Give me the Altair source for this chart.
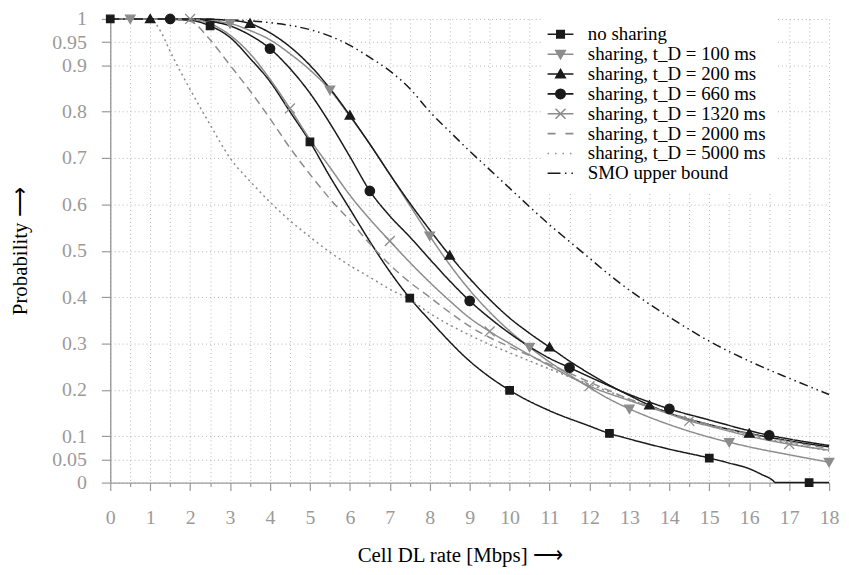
import altair as alt
import pandas as pd

# ---------------- data ----------------
SERIES = [
    "no sharing",
    "sharing, t_D = 100 ms",
    "sharing, t_D = 200 ms",
    "sharing, t_D = 660 ms",
    "sharing, t_D = 1320 ms",
    "sharing, t_D = 2000 ms",
    "sharing, t_D = 5000 ms",
    "SMO upper bound",
]

NO_X = [0, 1, 2, 2.5, 3, 3.5, 4, 4.5, 5, 5.5, 6, 6.5, 7, 7.5, 8, 9, 10, 11, 12, 12.5, 13, 14, 15, 15.5, 16, 16.3, 16.6, 16.65, 17.5, 18]
NO_Y = [1, 1, 0.997, 0.985, 0.96, 0.915, 0.865, 0.80, 0.735, 0.66, 0.59, 0.52, 0.455, 0.398, 0.35, 0.262, 0.199, 0.155, 0.122, 0.106, 0.094, 0.072, 0.053, 0.042, 0.03, 0.018, 0.004, 0, 0, 0]

T100_X = [0, 0.5, 1, 2, 3, 3.5, 4, 4.5, 5, 5.5, 6, 6.5, 7, 7.5, 8, 8.5, 9, 9.5, 10, 10.5, 11, 11.5, 12, 12.5, 13, 14, 15, 15.5, 16, 17, 18]
T100_Y = [1, 1, 1, 0.999, 0.99, 0.975, 0.955, 0.925, 0.89, 0.847, 0.79, 0.73, 0.665, 0.598, 0.532, 0.47, 0.415, 0.368, 0.327, 0.292, 0.26, 0.232, 0.205, 0.18, 0.159, 0.125, 0.098, 0.087, 0.077, 0.06, 0.044]

T200_X = [0, 1, 2, 3, 3.5, 4, 4.5, 5, 5.5, 6, 6.5, 7, 7.5, 8, 8.5, 9, 9.5, 10, 10.5, 11, 11.5, 12, 12.5, 13, 13.5, 14, 15, 16, 17, 18]
T200_Y = [1, 1, 1, 0.997, 0.99, 0.97, 0.94, 0.9, 0.85, 0.792, 0.73, 0.665, 0.603, 0.545, 0.49, 0.44, 0.395, 0.355, 0.322, 0.292, 0.262, 0.235, 0.21, 0.188, 0.167, 0.15, 0.125, 0.106, 0.09, 0.077]

T660_X = [0, 1.5, 2, 2.5, 3, 3.5, 4, 4.5, 5, 5.5, 6, 6.5, 7, 7.5, 8, 8.5, 9, 9.5, 10, 10.5, 11, 11.5, 12, 13, 14, 15, 16, 16.5, 17, 18]
T660_Y = [1, 1, 1, 0.995, 0.985, 0.965, 0.936, 0.893, 0.84, 0.775, 0.703, 0.629, 0.575, 0.53, 0.482, 0.435, 0.392, 0.355, 0.322, 0.293, 0.268, 0.248, 0.228, 0.19, 0.159, 0.135, 0.112, 0.102, 0.094, 0.08]

T1320_X = [0, 2, 2.5, 3, 3.5, 4, 4.5, 5, 5.5, 6, 6.5, 7, 7.5, 8, 8.5, 9, 9.5, 10, 11, 12, 13, 14, 14.5, 15, 16, 17, 18]
T1320_Y = [1, 1, 0.99, 0.965, 0.925, 0.87, 0.807, 0.74, 0.68, 0.62, 0.568, 0.521, 0.475, 0.432, 0.392, 0.355, 0.326, 0.3, 0.252, 0.208, 0.177, 0.148, 0.133, 0.122, 0.1, 0.083, 0.07]

T2000_X = [0, 1.5, 2, 2.5, 3, 3.5, 4, 4.5, 5, 5.5, 6, 6.5, 7, 7.5, 8, 8.5, 9, 9.5, 10, 11, 12, 13, 14, 15, 16, 17, 18]
T2000_Y = [1, 1, 0.995, 0.955, 0.9, 0.845, 0.785, 0.722, 0.665, 0.612, 0.565, 0.515, 0.47, 0.432, 0.4, 0.367, 0.337, 0.313, 0.293, 0.255, 0.217, 0.18, 0.15, 0.125, 0.105, 0.088, 0.074]

T5000_X = [0, 1, 1.25, 1.5, 2, 2.5, 3, 3.5, 4, 4.5, 5, 5.5, 6, 6.5, 7, 7.5, 8, 8.5, 9, 9.5, 10, 11, 12, 13, 14, 15, 16, 17, 18]
T5000_Y = [1, 1, 0.975, 0.93, 0.848, 0.772, 0.70, 0.65, 0.605, 0.565, 0.53, 0.497, 0.468, 0.443, 0.417, 0.395, 0.365, 0.34, 0.318, 0.298, 0.28, 0.245, 0.212, 0.18, 0.15, 0.124, 0.102, 0.085, 0.068]

SMO_X = [0, 2, 3, 4, 4.5, 5, 5.5, 6, 6.5, 7, 7.5, 8, 8.5, 9, 9.5, 10, 10.5, 11, 11.5, 12, 12.5, 13, 13.5, 14, 15, 16, 17, 18]
SMO_Y = [1, 1, 0.998, 0.992, 0.986, 0.977, 0.963, 0.943, 0.917, 0.888, 0.85, 0.80, 0.757, 0.715, 0.675, 0.635, 0.595, 0.556, 0.52, 0.484, 0.448, 0.415, 0.385, 0.357, 0.305, 0.262, 0.225, 0.19]

# marker positions
M_NO_X = [0, 2.5, 5, 7.5, 10, 12.5, 15, 17.5]
M_NO_Y = [1, 0.985, 0.735, 0.398, 0.199, 0.106, 0.053, 0]
M_100_X = [0.5, 3, 5.5, 8, 10.5, 13, 15.5, 18]
M_100_Y = [1, 0.99, 0.847, 0.532, 0.292, 0.159, 0.087, 0.044]
M_200_X = [1, 3.5, 6, 8.5, 11, 13.5, 16]
M_200_Y = [1, 0.99, 0.792, 0.49, 0.292, 0.167, 0.106]
M_660_X = [1.5, 4, 6.5, 9, 11.5, 14, 16.5]
M_660_Y = [1, 0.936, 0.629, 0.392, 0.248, 0.159, 0.102]
M_1320_X = [2, 4.5, 7, 9.5, 12, 14.5, 17]
M_1320_Y = [1, 0.807, 0.521, 0.326, 0.208, 0.133, 0.083]

X_TICKS = [0, 0.5, 1, 1.5, 2, 2.5, 3, 3.5, 4, 4.5, 5, 5.5, 6, 6.5, 7, 7.5, 8, 8.5, 9,
           9.5, 10, 10.5, 11, 11.5, 12, 12.5, 13, 13.5, 14, 14.5, 15, 15.5, 16, 16.5,
           17, 17.5, 18]
Y_TICKS = [0, 0.05, 0.1, 0.2, 0.3, 0.4, 0.5, 0.6, 0.7, 0.8, 0.9, 0.95, 1]

# ---------------- styling ----------------
BLACK = "#1a1a1a"
GRAY = "#8c8c8c"
AXIS_GRAY = "#9a9a9a"
FONT = "Liberation Serif"

COLORS = [BLACK, GRAY, BLACK, BLACK, GRAY, GRAY, GRAY, BLACK]
DASHES = [[1, 0], [1, 0], [1, 0], [1, 0], [1, 0], [8, 5], [2, 3.5], [9, 4, 1.5, 4, 1.5, 4]]

SQUARE = "M-0.75,-0.75H0.75V0.75H-0.75Z"
TRI_DOWN = "M-0.95,-0.75H0.95L0,0.9Z"
TRI_UP = "M-0.95,0.75H0.95L0,-0.9Z"
CIRCLE = "M-0.95,0A0.95,0.95,0,1,0,0.95,0A0.95,0.95,0,1,0,-0.95,0Z"
XCROSS = "M-1,-1L1,1M-1,1L1,-1"
LINE = "M-2.6,0H2.6"
LEGEND_PATHS = [
    LINE + SQUARE,
    LINE + TRI_DOWN,
    LINE + TRI_UP,
    LINE + CIRCLE,
    LINE + XCROSS,
    "M-2.6,0H-1M1,0H2.6",
    "M-2.6,0H-2.3M-1.1,0H-0.8M0.4,0H0.7M1.9,0H2.2",
    "M-2.6,0H0M0.9,0H1.2M2.2,0H2.5",
]

# ---------------- tables ----------------
line_rows = []
for name, xs, ys in zip(SERIES,
                        [NO_X, T100_X, T200_X, T660_X, T1320_X, T2000_X, T5000_X, SMO_X],
                        [NO_Y, T100_Y, T200_Y, T660_Y, T1320_Y, T2000_Y, T5000_Y, SMO_Y]):
    for x, y in zip(xs, ys):
        line_rows.append({"series": name, "x": x, "y": y})
lines_df = pd.DataFrame(line_rows)

marker_rows = []
for name, xs, ys in zip(SERIES[:5],
                        [M_NO_X, M_100_X, M_200_X, M_660_X, M_1320_X],
                        [M_NO_Y, M_100_Y, M_200_Y, M_660_Y, M_1320_Y]):
    for x, y in zip(xs, ys):
        marker_rows.append({"series": name, "x": x, "y": y})
markers_df = pd.DataFrame(marker_rows)

x_axis = alt.Axis(
    values=X_TICKS,
    labelExpr="datum.value % 1 === 0 ? format(datum.value, 'd') : ''",
    title="Cell DL rate [Mbps] ⟶",
    grid=True, gridDash=[1, 3], gridColor="#b5b5b5", gridWidth=1,
    tickSize={"condition": {"test": "datum.value % 1 === 0", "value": 8}, "value": 4},
    tickColor=AXIS_GRAY, tickWidth=1.2, domainColor=AXIS_GRAY, domainWidth=1.4,
    labelColor=AXIS_GRAY, labelFont=FONT, labelFontSize=20, labelPadding=17,
    labelFlush=False, labelOverlap=False,
    titleFont=FONT, titleFontSize=21, titleFontWeight="normal", titleColor="black",
    titlePadding=17, titleX=352,
)
y_axis = alt.Axis(
    values=Y_TICKS, format=".2~f",
    title="Probability ⟶",
    grid=True, gridDash=[1, 3], gridColor="#b5b5b5", gridWidth=1,
    tickSize=9, tickColor=AXIS_GRAY, tickWidth=1.2, domainColor=AXIS_GRAY, domainWidth=1.4,
    labelColor=AXIS_GRAY, labelFont=FONT, labelFontSize=20, labelPadding=15,
    labelFlush=False, labelOverlap=False, labelBound=False,
    titleFont=FONT, titleFontSize=21, titleFontWeight="normal", titleColor="black",
    titlePadding=21,
)

X_ENC = alt.X("x:Q", scale=alt.Scale(domain=[0, 18], nice=False, zero=False), axis=x_axis)
Y_ENC = alt.Y("y:Q", scale=alt.Scale(domain=[0, 1], nice=False), axis=y_axis)

layers = []
for name, col, dash in zip(SERIES, COLORS, DASHES):
    layers.append(
        alt.Chart(lines_df).transform_filter(alt.datum.series == name)
        .mark_line(stroke=col, strokeDash=dash, strokeWidth=1.5, interpolate="monotone")
        .encode(x=X_ENC, y=Y_ENC)
    )

for name, path, col in zip(SERIES[:5], [SQUARE, TRI_DOWN, TRI_UP, CIRCLE, XCROSS], COLORS[:5]):
    layers.append(
        alt.Chart(markers_df).transform_filter(alt.datum.series == name)
        .mark_point(shape=path, size=100, filled=True, fill=col, stroke=col,
                    strokeWidth=1.3, opacity=1)
        .encode(x=X_ENC, y=Y_ENC)
    )

color_scale = alt.Scale(domain=SERIES, range=COLORS)
leg = alt.Legend(
    title=None, orient="none", legendX=434, legendY=-4, fillColor="white",
    padding=10, labelFont=FONT, labelFontSize=19, labelColor="black",
    rowPadding=0, labelOffset=18, symbolStrokeWidth=1.6, labelLimit=400,
)
legend_layer = alt.Chart(markers_df).transform_filter("false").mark_point(
    filled=True, size=100, strokeWidth=1.6, opacity=1
).encode(
    x=X_ENC, y=Y_ENC,
    shape=alt.Shape("series:N", scale=alt.Scale(domain=SERIES, range=LEGEND_PATHS), legend=leg),
    fill=alt.Fill("series:N", scale=color_scale, legend=leg),
    stroke=alt.Stroke("series:N", scale=color_scale, legend=leg),
)
layers.append(legend_layer)

chart = alt.layer(*layers).properties(
    width=724, height=467,
    autosize=alt.AutoSizeParams(type="none"),
    padding={"left": 103, "top": 9, "right": 12, "bottom": 83},
    background="white",
).configure_view(stroke=None).configure_axis(labelOverlap=False).configure_legend(
    labelFont=FONT, labelFontSize=19, labelColor="black", rowPadding=0
)

chart.save("out.html", embed_options={"renderer": "svg", "actions": False})
